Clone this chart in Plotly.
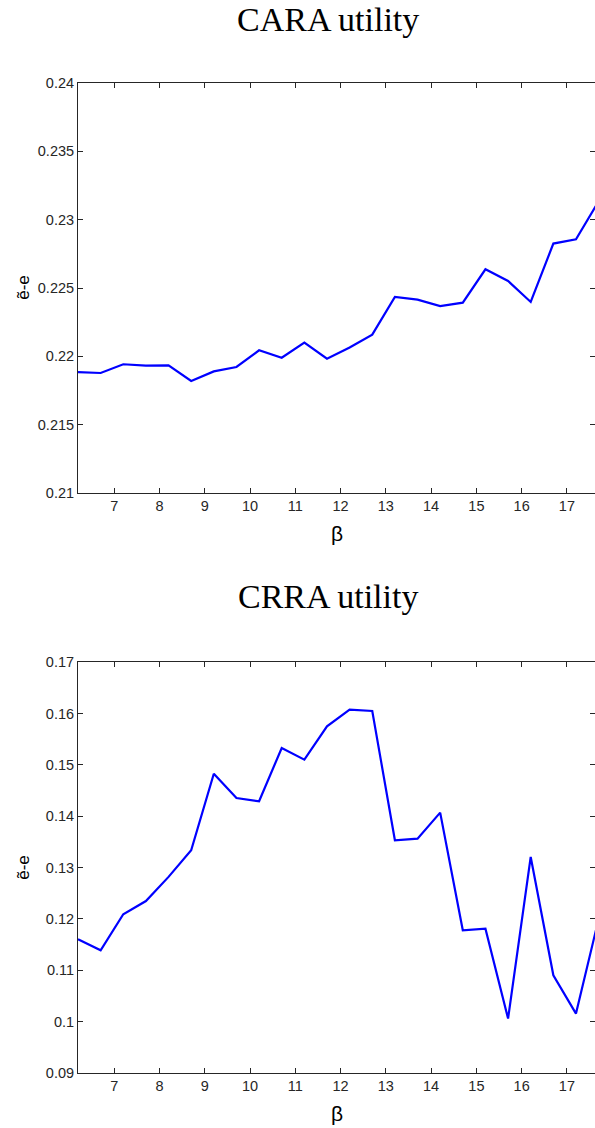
import plotly.graph_objects as go

beta = [6.2, 6.7, 7.2, 7.7, 8.2, 8.7, 9.2, 9.7, 10.2, 10.7, 11.2, 11.7,
        12.2, 12.7, 13.2, 13.7, 14.2, 14.7, 15.2, 15.7, 16.2, 16.7, 17.2, 17.7]

cara = [0.21885, 0.21878, 0.21942, 0.21932, 0.21934, 0.21820, 0.21890, 0.21922,
        0.22044, 0.21990, 0.22100, 0.21983, 0.22065, 0.22159, 0.22434, 0.22415,
        0.22368, 0.22393, 0.22637, 0.22551, 0.22398, 0.22825, 0.22856, 0.23134]

crra = [0.11605, 0.11390, 0.12092, 0.12350, 0.12820, 0.13338, 0.14830, 0.14357,
        0.14293, 0.15331, 0.15104, 0.15753, 0.16079, 0.16052, 0.13533, 0.13565,
        0.14072, 0.11780, 0.11810, 0.10060, 0.13208, 0.10903, 0.10157, 0.12000]

titles = ["CARA utility", "CRRA utility"]
x_ticks = [7, 8, 9, 10, 11, 12, 13, 14, 15, 16, 17]
cara_ticks = [0.21, 0.215, 0.22, 0.225, 0.23, 0.235, 0.24]
crra_ticks = [0.09, 0.10, 0.11, 0.12, 0.13, 0.14, 0.15, 0.16, 0.17]
cara_tick_text = ["0.21", "0.215", "0.22", "0.225", "0.23", "0.235", "0.24"]
crra_tick_text = ["0.09", "0.1", "0.11", "0.12", "0.13", "0.14", "0.15", "0.16", "0.17"]

W, H = 595, 1128
L, R = 78, 0
T = 82.7
B = H - 1072.7
ph = H - T - B


def fy(py):
    return (H - B - py) / ph


def fx(px):
    return (px - L) / (W - L - R)


fig = go.Figure()
fig.add_trace(go.Scatter(x=beta, y=cara, mode="lines", line=dict(color="#0000ff", width=2.2),
                         xaxis="x", yaxis="y", showlegend=False))
fig.add_trace(go.Scatter(x=beta, y=crra, mode="lines", line=dict(color="#0000ff", width=2.2),
                         xaxis="x2", yaxis="y2", showlegend=False))

tickfont = dict(family="Liberation Sans, Arial, sans-serif", size=14.5, color="#262626")
common_x = dict(range=[6.2, 17.62], tickvals=x_ticks, ticks="inside", ticklen=5, tickwidth=1,
                tickcolor="#262626", showline=True, linecolor="#262626", linewidth=1,
                mirror="ticks", showgrid=False, zeroline=False, tickfont=tickfont,
                fixedrange=True)
common_y = dict(ticks="inside", ticklen=5, tickwidth=1, tickcolor="#262626", showline=True,
                linecolor="#262626", linewidth=1, mirror="ticks", showgrid=False,
                zeroline=False, tickfont=tickfont, fixedrange=True)

fig.update_layout(
    width=W, height=H,
    margin=dict(l=L, r=R, t=T, b=B, pad=0),
    paper_bgcolor="white", plot_bgcolor="white",
    xaxis=dict(common_x, domain=[0, 1], anchor="y"),
    yaxis=dict(common_y, domain=[fy(492.7), 1], range=[0.21, 0.24],
               tickvals=cara_ticks, ticktext=cara_tick_text, anchor="x"),
    xaxis2=dict(common_x, domain=[0, 1], anchor="y2"),
    yaxis2=dict(common_y, domain=[0, fy(662)], range=[0.09, 0.17],
                tickvals=crra_ticks, ticktext=crra_tick_text, anchor="x2"),
)

ann = []
serif = dict(family="Liberation Serif, Times New Roman, serif", size=34, color="black")
for t, cy in zip(titles, [19, 596]):
    ann.append(dict(text=t, xref="paper", yref="paper", x=fx(327.5), y=fy(cy),
                    xanchor="center", yanchor="middle", showarrow=False, font=serif))
for cy in [533, 1113]:
    ann.append(dict(text="β", xref="paper", yref="paper", x=fx(336.7), y=fy(cy),
                    xanchor="center", yanchor="middle", showarrow=False,
                    font=dict(family="Liberation Sans, Arial, sans-serif", size=21, color="black")))
for cy in [287.5, 867.5]:
    ann.append(dict(text="ẽ-e", xref="paper", yref="paper", x=fx(24), y=fy(cy),
                    xanchor="center", yanchor="middle", textangle=-90, showarrow=False,
                    font=dict(family="Liberation Sans, Arial, sans-serif", size=17, color="black")))
fig.update_layout(annotations=ann)

fig.write_html("out.html", config={"displayModeBar": False},
               post_script="document.body.style.margin='0px';")
